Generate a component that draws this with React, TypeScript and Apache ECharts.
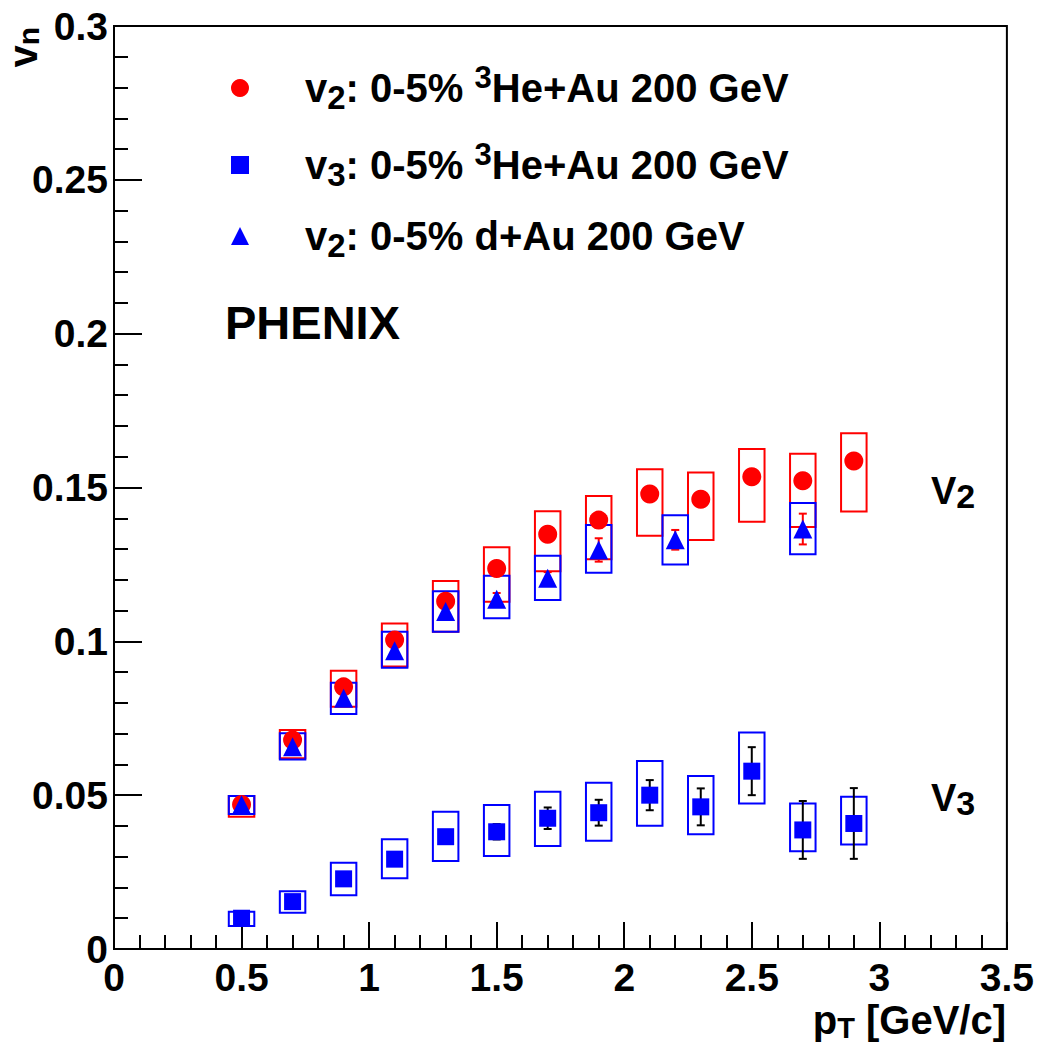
import React, { useEffect, useRef } from "react";
import * as echarts from "echarts";

// ---- data ----
const ptHe = [0.5, 0.7, 0.9, 1.1, 1.3, 1.5, 1.7, 1.9, 2.1, 2.3, 2.5, 2.7, 2.9];
const v2He = [0.047, 0.0679, 0.0852, 0.1004, 0.113, 0.1237, 0.1348, 0.1394, 0.1479, 0.1462, 0.1535, 0.1522, 0.1586];
const v2HeStat = [0.001, 0.001, 0.001, 0.001, 0.001, 0.0012, 0.0012, 0.0014, 0.0015, 0.0016, 0.0018, 0.002, 0.0022];
const v2HeSysLow = [0.043, 0.062, 0.0787, 0.0918, 0.1031, 0.1129, 0.1228, 0.1267, 0.1343, 0.1329, 0.1389, 0.1372, 0.1422];
const v2HeSysHigh = [0.0497, 0.0712, 0.0904, 0.1058, 0.1196, 0.1306, 0.1423, 0.1472, 0.1559, 0.1549, 0.1625, 0.161, 0.1676];

const v3He = [0.01, 0.0154, 0.0228, 0.0292, 0.0365, 0.0381, 0.0425, 0.0443, 0.05, 0.0462, 0.0578, 0.0387, 0.0408];
const v3HeStat = [0.001, 0.001, 0.0015, 0.002, 0.002, 0.0025, 0.0035, 0.0042, 0.0049, 0.006, 0.0078, 0.0094, 0.0115];
const v3HeSysLow = [0.0075, 0.0118, 0.0175, 0.023, 0.0286, 0.0302, 0.0335, 0.0352, 0.0401, 0.0373, 0.0473, 0.0318, 0.034];
const v3HeSysHigh = [0.0121, 0.0188, 0.028, 0.0357, 0.0446, 0.0468, 0.0511, 0.054, 0.0611, 0.0562, 0.0704, 0.0473, 0.0495];

const ptD = [0.5, 0.7, 0.9, 1.1, 1.3, 1.5, 1.7, 1.9, 2.2, 2.7];
const v2D = [0.0469, 0.0657, 0.0815, 0.0969, 0.1097, 0.1137, 0.1205, 0.1297, 0.133, 0.1365];
const v2DStat = [0.001, 0.0012, 0.0014, 0.0015, 0.0016, 0.002, 0.002, 0.0038, 0.0032, 0.005];
const v2DSysLow = [0.0439, 0.0616, 0.0764, 0.0914, 0.1031, 0.1075, 0.1134, 0.1223, 0.125, 0.1283];
const v2DSysHigh = [0.0497, 0.0701, 0.0865, 0.1031, 0.1163, 0.1213, 0.1278, 0.1378, 0.141, 0.145];

const seriesNames = ["v2 He3Au", "v3 He3Au", "v2 dAu"];
const legendTexts = [
  "{m|v}{sub|2}{m|: 0-5% }{sup|3}{m|He+Au 200 GeV}",
  "{m|v}{sub|3}{m|: 0-5% }{sup|3}{m|He+Au 200 GeV}",
  "{m|v}{sub|2}{m|: 0-5% d+Au 200 GeV}",
];

const FONT = '"Liberation Sans", Arial, Helvetica, sans-serif';
const RED = "#ff0000";
const BLUE = "#0000ff";
const BOX_HALF = 0.05;

function boxSeries(name: string, xs: number[], lo: number[], hi: number[], color: string) {
  return {
    name,
    type: "custom",
    data: xs.map((x, i) => [x, lo[i], hi[i]]),
    encode: { x: 0, y: [1, 2] },
    renderItem: (_p: any, api: any) => {
      const x = api.value(0);
      const p1 = api.coord([x - BOX_HALF, api.value(2)]);
      const p2 = api.coord([x + BOX_HALF, api.value(1)]);
      return {
        type: "rect",
        shape: { x: p1[0], y: p1[1], width: p2[0] - p1[0], height: p2[1] - p1[1] },
        style: { fill: "none", stroke: color, lineWidth: 2 },
      };
    },
  };
}

function errSeries(name: string, xs: number[], v: number[], err: number[], color: string) {
  return {
    name,
    type: "custom",
    data: xs.map((x, i) => [x, v[i] - err[i], v[i] + err[i]]),
    encode: { x: 0, y: [1, 2] },
    renderItem: (_p: any, api: any) => {
      const x = api.value(0);
      const t = api.coord([x, api.value(2)]);
      const b = api.coord([x, api.value(1)]);
      const cw = 4;
      const st = { stroke: color, lineWidth: 2 };
      return {
        type: "group",
        children: [
          { type: "line", shape: { x1: t[0], y1: t[1], x2: b[0], y2: b[1] }, style: st },
          { type: "line", shape: { x1: t[0] - cw, y1: t[1], x2: t[0] + cw, y2: t[1] }, style: st },
          { type: "line", shape: { x1: b[0] - cw, y1: b[1], x2: b[0] + cw, y2: b[1] }, style: st },
        ],
      };
    },
  };
}

export default function App() {
  const ref = useRef<HTMLDivElement>(null);
  useEffect(() => {
    if (!ref.current) return;
    const chart = echarts.init(ref.current, null, { renderer: "svg" });
    const axisCommon = {
      type: "value",
      axisLine: { show: true, onZero: false, lineStyle: { color: "#000", width: 2 } },
      splitLine: { show: false },
      minorSplitLine: { show: false },
    };
    const labelCommon = {
      color: "#000",
      fontSize: 39,
      fontWeight: "bold",
      fontFamily: FONT,
      showMinLabel: true,
      showMaxLabel: true,
      hideOverlap: false,
      formatter: (v: number) => String(+v.toFixed(2)),
    };
    const subLabel = (fs: number, h: number) => ({
      m: { fontSize: 38, lineHeight: 44, fontWeight: "bold", fontFamily: FONT, fill: "#000" },
      sub: { fontSize: fs, lineHeight: h, verticalAlign: "bottom", fontWeight: "bold", fontFamily: FONT, fill: "#000" },
    });
    chart.setOption({
      animation: false,
      backgroundColor: "#fff",
      grid: { left: 114, right: 30, top: 26, bottom: 99, show: true, borderColor: "#000", borderWidth: 2, containLabel: false },
      xAxis: {
        ...axisCommon,
        min: 0,
        max: 3.5,
        interval: 0.5,
        axisTick: { show: true, inside: true, length: 27, lineStyle: { color: "#000", width: 2 } },
        minorTick: { show: true, splitNumber: 5, length: 14, lineStyle: { color: "#000", width: 2 } },
        axisLabel: { ...labelCommon, margin: 9 },
      },
      yAxis: {
        ...axisCommon,
        min: 0,
        max: 0.3,
        interval: 0.05,
        axisTick: { show: true, inside: true, length: 28, lineStyle: { color: "#000", width: 2 } },
        minorTick: { show: true, splitNumber: 5, length: 14, lineStyle: { color: "#000", width: 2 } },
        axisLabel: { ...labelCommon, margin: 6 },
      },
      legend: {
        orient: "vertical",
        left: 226,
        top: 57,
        itemWidth: 18,
        itemHeight: 18,
        itemGap: 25,
        data: seriesNames,
        selectedMode: false,
        formatter: (name: string) => legendTexts[seriesNames.indexOf(name)],
        textStyle: {
          padding: [0, 0, 0, 51],
          rich: {
            m: { fontSize: 40, lineHeight: 52, fontWeight: "bold", fontFamily: FONT, color: "#000" },
            sub: { fontSize: 33, lineHeight: 18, verticalAlign: "bottom", fontWeight: "bold", fontFamily: FONT, color: "#000" },
            sup: { fontSize: 31, lineHeight: 36, verticalAlign: "top", fontWeight: "bold", fontFamily: FONT, color: "#000" },
          },
        },
      },
      graphic: [
        {
          type: "text",
          x: 225,
          y: 322,
          style: { text: "PHENIX", font: `bold 47px ${FONT}`, fill: "#000", textAlign: "left", textVerticalAlign: "middle" },
        },
        {
          type: "text",
          x: 931,
          y: 491,
          style: { text: "{m|V}{sub|2}", textAlign: "left", textVerticalAlign: "middle", rich: subLabel(34, 8) },
        },
        {
          type: "text",
          x: 931,
          y: 798,
          style: { text: "{m|V}{sub|3}", textAlign: "left", textVerticalAlign: "middle", rich: subLabel(34, 8) },
        },
        {
          type: "text",
          x: 1006,
          y: 1020,
          style: {
            text: "{m|p}{sub|T}{m| [GeV/c]}",
            textAlign: "right",
            textVerticalAlign: "middle",
            rich: {
              m: { fontSize: 40, lineHeight: 44, fontWeight: "bold", fontFamily: FONT, fill: "#000" },
              sub: { fontSize: 29, lineHeight: 4, verticalAlign: "bottom", fontWeight: "bold", fontFamily: FONT, fill: "#000" },
            },
          },
        },
        {
          type: "text",
          x: 23,
          y: 27,
          rotation: Math.PI / 2,
          style: {
            text: "{m|v}{sub|n}",
            textAlign: "right",
            textVerticalAlign: "middle",
            rich: {
              m: { fontSize: 40, lineHeight: 40, fontWeight: "bold", fontFamily: FONT, fill: "#000" },
              sub: { fontSize: 30, lineHeight: 4, verticalAlign: "bottom", fontWeight: "bold", fontFamily: FONT, fill: "#000" },
            },
          },
        },
      ],
      series: [
        boxSeries("v2 He3Au sys", ptHe, v2HeSysLow, v2HeSysHigh, RED),
        errSeries("v2 He3Au stat", ptHe, v2He, v2HeStat, RED),
        {
          name: seriesNames[0],
          type: "scatter",
          data: ptHe.map((x, i) => [x, v2He[i]]),
          symbol: "circle",
          symbolSize: 19,
          itemStyle: { color: RED, opacity: 1 },
        },
        boxSeries("v2 dAu sys", ptD, v2DSysLow, v2DSysHigh, BLUE),
        boxSeries("v3 He3Au sys", ptHe, v3HeSysLow, v3HeSysHigh, BLUE),
        errSeries("v3 He3Au stat", ptHe, v3He, v3HeStat, "#000"),
        {
          name: seriesNames[1],
          type: "scatter",
          data: ptHe.map((x, i) => [x, v3He[i]]),
          symbol: "rect",
          symbolSize: 17,
          itemStyle: { color: BLUE, opacity: 1 },
        },
        errSeries("v2 dAu stat", ptD, v2D, v2DStat, RED),
        {
          name: seriesNames[2],
          type: "scatter",
          data: ptD.map((x, i) => [x, v2D[i]]),
          symbol: "triangle",
          symbolSize: 19,
          itemStyle: { color: BLUE, opacity: 1 },
        },
      ],
    });
    return () => chart.dispose();
  }, []);
  return (
    <div
      ref={ref}
      style={{ position: "absolute", left: 0, top: 0, width: 1037, height: 1048, background: "#fff" }}
    />
  );
}
